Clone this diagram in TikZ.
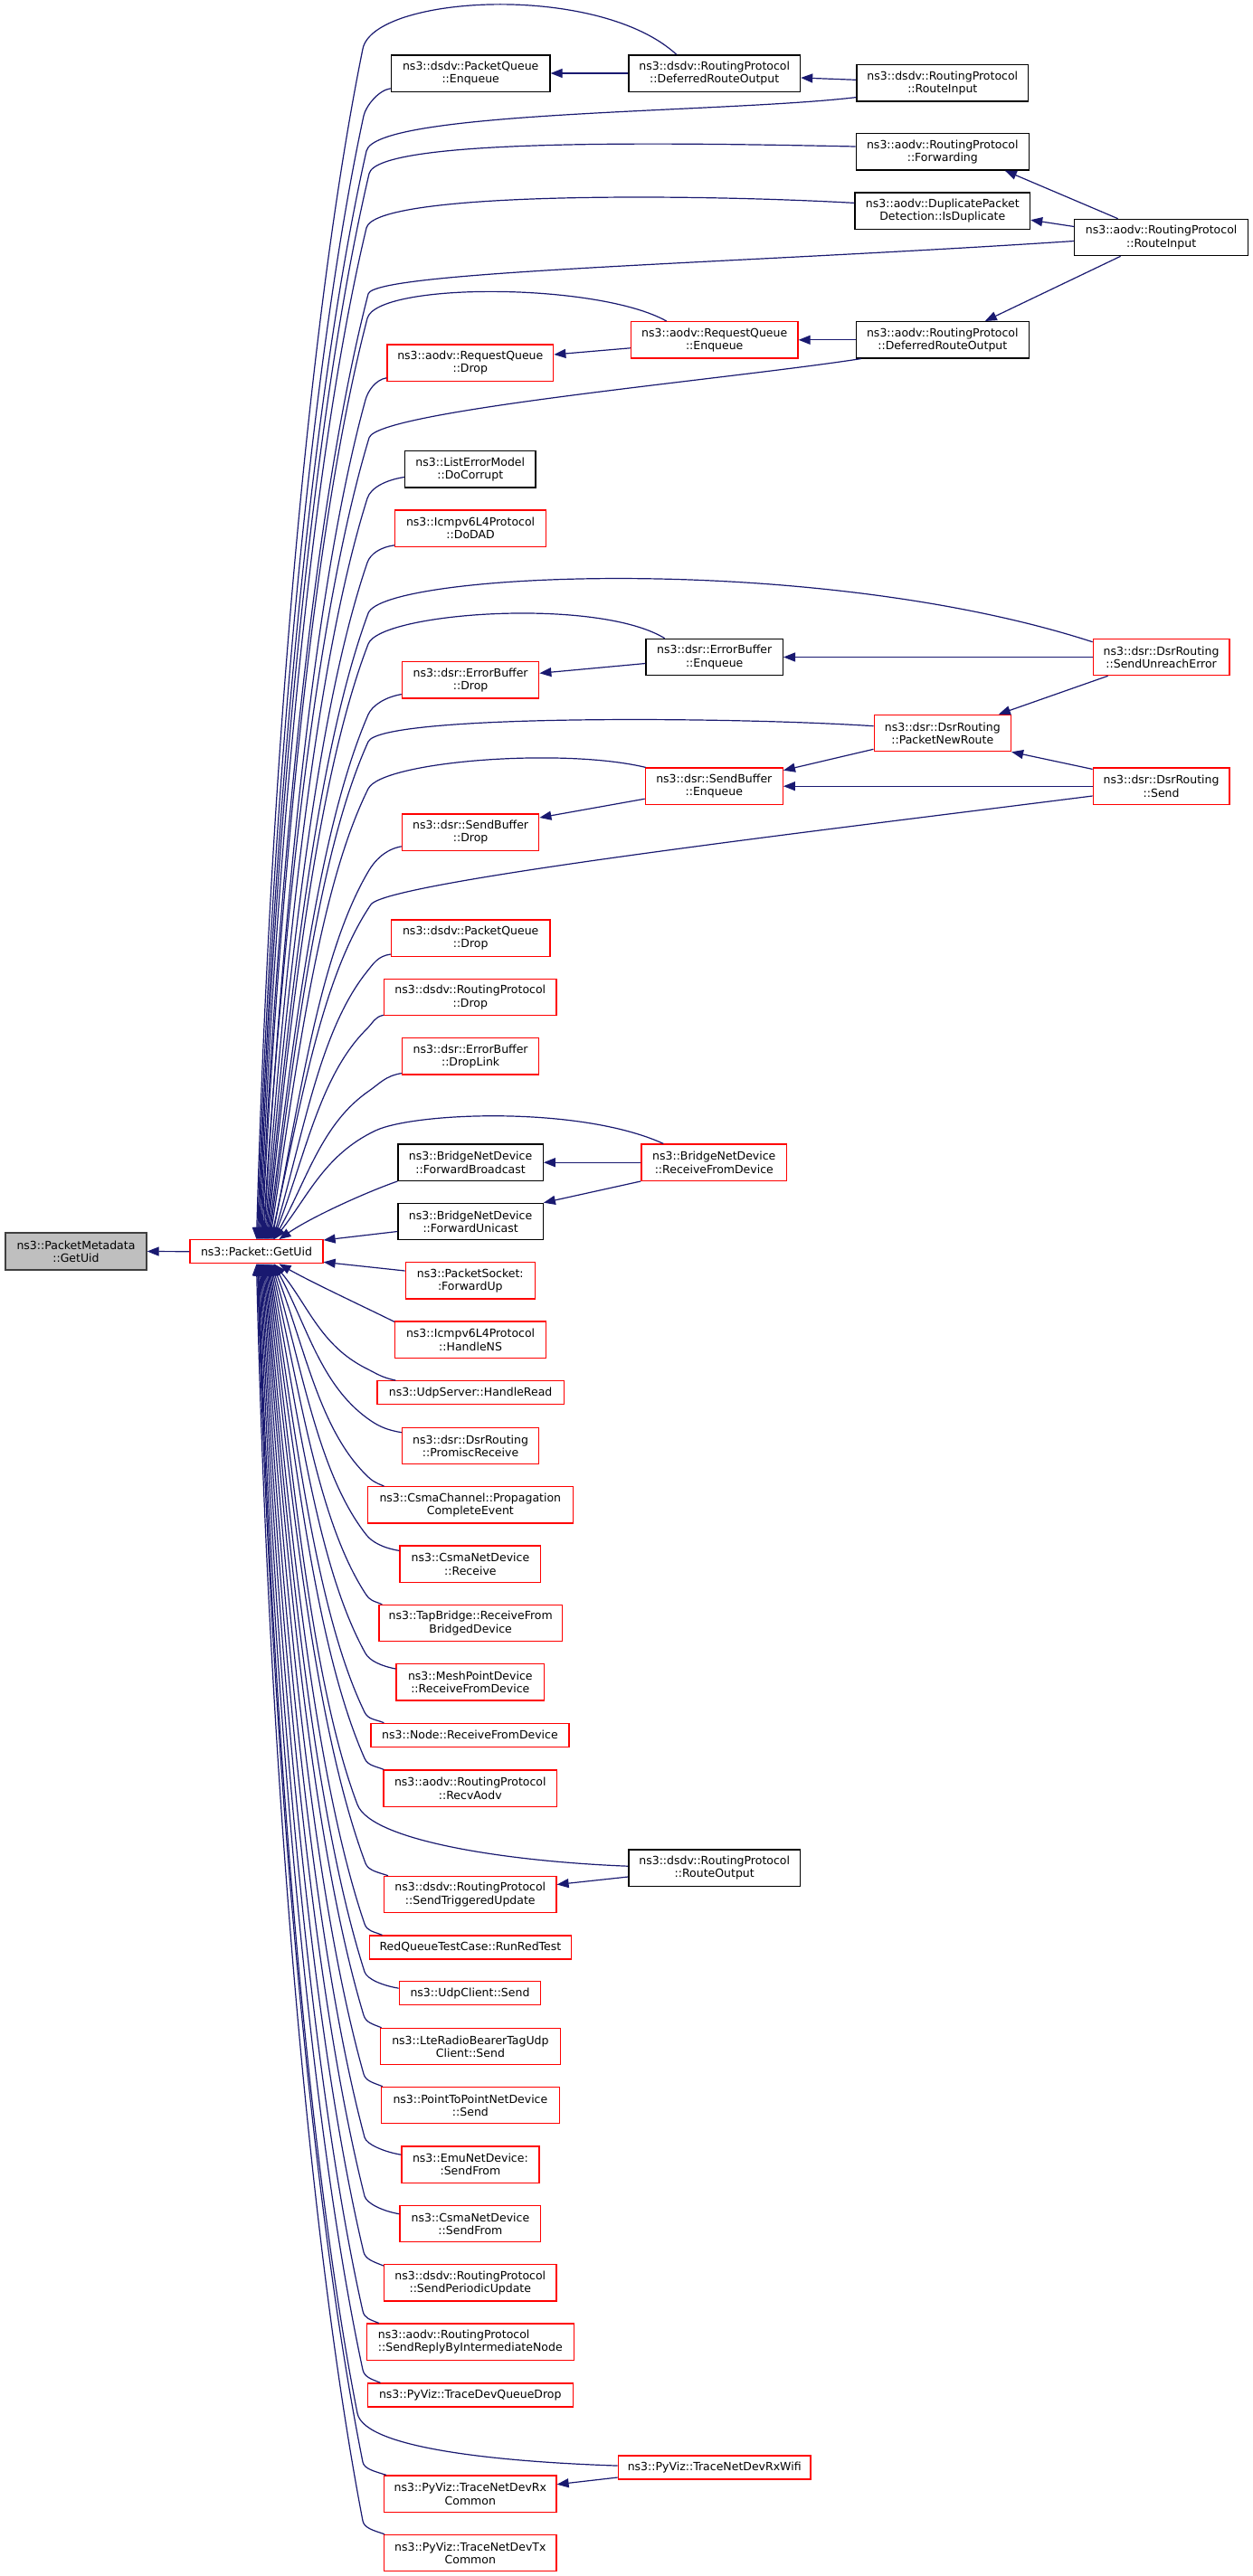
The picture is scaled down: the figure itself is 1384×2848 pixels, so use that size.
\documentclass[tikz,border=0pt]{standalone}
\usepackage{fontspec}
\setmainfont{DejaVu Sans}
\usetikzlibrary{arrows.meta}
\definecolor{navy}{HTML}{191970}
\definecolor{pmgray}{HTML}{BFBFBF}
\definecolor{pmborder}{HTML}{404040}
\tikzset{
  box/.style={draw, line width=1.3pt, minimum height=40.3pt, inner sep=0pt, align=center, fill=white,
              font=\fontsize{12.5}{14.3}\selectfont},
  rbox/.style={box, draw=red},
  kbox/.style={box, draw=black},
  one/.style={minimum height=26pt},
  callarrow/.style={draw=navy, line width=1.2pt, -{Triangle[length=13pt,width=10pt]}},
}
% top callers: #1 start, #2 first control, #3 bend x, #4 bend y (px down), #5 end offset, #6 h
\newcommand\tE[6]{%
  \pgfmathsetmacro\myex{283.5+#5}%
  \pgfmathsetmacro\mydd{1370.7-#4}%
  \pgfmathsetmacro\myvx{0.5*(\myex-#3)}%
  \pgfmathsetmacro\myvy{0.22*\mydd}%
  \pgfmathsetmacro\myox{15+25*(1-\mydd/1300)}%
  \pgfmathsetmacro\mycax{#3-\myvx*#6/\myvy}%
  \pgfmathsetmacro\mycay{-#4+#6}%
  \pgfmathsetmacro\mycbx{#3+\myvx}%
  \pgfmathsetmacro\mycby{-#4-\myvy}%
  \pgfmathsetmacro\myccx{\myex+\myox}%
  \pgfmathsetmacro\myccy{-1370.7+0.4*\mydd}%
  \draw[callarrow] (#1) .. controls #2 and (\mycax,\mycay) .. (#3,-#4)
     .. controls (\mycbx,\mycby) and (\myccx,\myccy) .. ([xshift=#5pt]G.north);%
}
\newcommand\bE[6]{%
  \pgfmathsetmacro\myex{283.5+#5}%
  \pgfmathsetmacro\mydd{#4-1396.7}%
  \pgfmathsetmacro\myvx{0.5*(\myex-#3)}%
  \pgfmathsetmacro\myvy{0.22*\mydd}%
  \pgfmathsetmacro\myox{15+25*(1-\mydd/1300)}%
  \pgfmathsetmacro\mycax{#3-\myvx*#6/\myvy}%
  \pgfmathsetmacro\mycay{-#4-#6}%
  \pgfmathsetmacro\mycbx{#3+\myvx}%
  \pgfmathsetmacro\mycby{-#4+\myvy}%
  \pgfmathsetmacro\myccx{\myex+\myox}%
  \pgfmathsetmacro\myccy{-1396.7-0.4*\mydd}%
  \draw[callarrow] (#1) .. controls #2 and (\mycax,\mycay) .. (#3,-#4)
     .. controls (\mycbx,\mycby) and (\myccx,\myccy) .. ([xshift=#5pt]G.south);%
}
\begin{document}
\begin{tikzpicture}[x=1pt,y=1pt]
\useasboundingbox (0,0) rectangle (1384,-2848);
\fill[white] (0,0) rectangle (1384,-2848);
% nodes
\node[box, fill=pmgray, draw=pmborder, minimum width=156pt, minimum height=41pt] (PM) at (84,-1383.5) {ns3::PacketMetadata\\::GetUid};
\node[rbox, one, minimum width=147pt] (G) at (283.5,-1383.7) {ns3::Packet::GetUid};

\node[kbox, minimum width=175.6pt] (dsdvPQEnq) at (520.2,-81) {ns3::dsdv::PacketQueue\\::Enqueue};
\node[kbox, minimum width=189.7pt] (dsdvRPDef) at (789.7,-81) {ns3::dsdv::RoutingProtocol\\::DeferredRouteOutput};
\node[kbox, minimum width=189.7pt] (dsdvRI) at (1041.8,-91.8) {ns3::dsdv::RoutingProtocol\\::RouteInput};
\node[kbox, minimum width=190.9pt] (aodvFwd) at (1041.8,-167.8) {ns3::aodv::RoutingProtocol\\::Forwarding};
\node[kbox, minimum width=193.5pt] (aodvDup) at (1041.8,-233.2) {ns3::aodv::DuplicatePacket\\Detection::IsDuplicate};
\node[kbox, minimum width=191.6pt] (aodvRI) at (1283.6,-262.5) {ns3::aodv::RoutingProtocol\\::RouteInput};
\node[rbox, minimum width=184.5pt] (aodvRQEnq) at (789.7,-375.8) {ns3::aodv::RequestQueue\\::Enqueue};
\node[kbox, minimum width=190.9pt] (aodvDef) at (1041.8,-375.8) {ns3::aodv::RoutingProtocol\\::DeferredRouteOutput};
\node[rbox, minimum width=183.9pt] (aodvRQDrop) at (519.8,-401) {ns3::aodv::RequestQueue\\::Drop};
\node[kbox, minimum width=144.3pt] (LEM) at (519.8,-518.7) {ns3::ListErrorModel\\::DoCorrupt};
\node[rbox, minimum width=166.7pt] (DoDAD) at (520.1,-584) {ns3::Icmpv6L4Protocol\\::DoDAD};
\node[kbox, minimum width=151.3pt] (dsrEBEnq) at (789.7,-726.5) {ns3::dsr::ErrorBuffer\\::Enqueue};
\node[rbox, minimum width=150.7pt] (dsrSUE) at (1283.6,-726.5) {ns3::dsr::DsrRouting\\::SendUnreachError};
\node[rbox, minimum width=151.3pt] (dsrEBDrop) at (520.1,-751.8) {ns3::dsr::ErrorBuffer\\::Drop};
\node[rbox, minimum width=151.3pt] (dsrPNR) at (1041.8,-810.5) {ns3::dsr::DsrRouting\\::PacketNewRoute};
\node[rbox, minimum width=152pt] (dsrSBEnq) at (789.3,-869.2) {ns3::dsr::SendBuffer\\::Enqueue};
\node[rbox, minimum width=150.7pt] (dsrSend) at (1283.6,-869.2) {ns3::dsr::DsrRouting\\::Send};
\node[rbox, minimum width=151.3pt] (dsrSBDrop) at (520.1,-920) {ns3::dsr::SendBuffer\\::Drop};
\node[rbox, minimum width=175.6pt] (dsdvPQDrop) at (520.2,-1037.2) {ns3::dsdv::PacketQueue\\::Drop};
\node[rbox, minimum width=190.3pt] (dsdvRPDrop) at (519.8,-1102.5) {ns3::dsdv::RoutingProtocol\\::Drop};
\node[rbox, minimum width=151.3pt] (DropLink) at (520.1,-1167.8) {ns3::dsr::ErrorBuffer\\::DropLink};
\node[kbox, minimum width=160.3pt] (BFB) at (520.1,-1285.2) {ns3::BridgeNetDevice\\::ForwardBroadcast};
\node[rbox, minimum width=160.9pt] (BRFD) at (789.3,-1285.2) {ns3::BridgeNetDevice\\::ReceiveFromDevice};
\node[kbox, minimum width=160.3pt] (BFU) at (520.1,-1350.5) {ns3::BridgeNetDevice\\::ForwardUnicast};

\node[rbox, minimum width=143.1pt] (PS) at (519.8,-1415.8) {ns3::PacketSocket:\\:ForwardUp};
\node[rbox, minimum width=166.7pt] (HNS) at (520.1,-1481.2) {ns3::Icmpv6L4Protocol\\::HandleNS};
\node[rbox, one, minimum width=206.3pt] (USHR) at (520.1,-1539.7) {ns3::UdpServer::HandleRead};
\node[rbox, minimum width=151.3pt] (PR) at (520.1,-1598.5) {ns3::dsr::DsrRouting\\::PromiscReceive};
\node[rbox, minimum width=227.3pt] (CC) at (519.8,-1663.8) {ns3::CsmaChannel::Propagation\\CompleteEvent};
\node[rbox, minimum width=155.8pt] (CNDR) at (519.9,-1729.2) {ns3::CsmaNetDevice\\::Receive};
\node[rbox, minimum width=202.4pt] (TB) at (520.2,-1794.5) {ns3::TapBridge::ReceiveFrom\\BridgedDevice};
\node[rbox, minimum width=163.5pt] (MP) at (519.8,-1859.8) {ns3::MeshPointDevice\\::ReceiveFromDevice};
\node[rbox, one, minimum width=219pt] (NRFD) at (519.5,-1918.3) {ns3::Node::ReceiveFromDevice};
\node[rbox, minimum width=191.6pt] (RA) at (519.8,-1977.2) {ns3::aodv::RoutingProtocol\\::RecvAodv};
\node[kbox, minimum width=189.7pt] (RO) at (789.7,-2065) {ns3::dsdv::RoutingProtocol\\::RouteOutput};
\node[rbox, minimum width=190.3pt] (STU) at (519.8,-2094.5) {ns3::dsdv::RoutingProtocol\\::SendTriggeredUpdate};
\node[rbox, one, minimum width=223.5pt] (RQ) at (519.9,-2153) {RedQueueTestCase::RunRedTest};
\node[rbox, one, minimum width=156.5pt] (UC) at (519.5,-2203.8) {ns3::UdpClient::Send};
\node[rbox, minimum width=199.3pt] (LTE) at (519.9,-2262.5) {ns3::LteRadioBearerTagUdp\\Client::Send};
\node[rbox, minimum width=196.7pt] (P2P) at (519.9,-2327.5) {ns3::PointToPointNetDevice\\::Send};
\node[rbox, minimum width=151.9pt] (EMU) at (519.9,-2393) {ns3::EmuNetDevice:\\:SendFrom};
\node[rbox, minimum width=155.8pt] (CSF) at (519.9,-2458.5) {ns3::CsmaNetDevice\\::SendFrom};
\node[rbox, minimum width=190.3pt] (SPU) at (519.8,-2523.8) {ns3::dsdv::RoutingProtocol\\::SendPeriodicUpdate};
\node[rbox, align=left, minimum width=228.7pt] (SRBIN) at (519.8,-2589.2) {ns3::aodv::RoutingProtocol\\::SendReplyByIntermediateNode};
\node[rbox, one, minimum width=227.3pt] (TDQD) at (519.8,-2648) {ns3::PyViz::TraceDevQueueDrop};
\node[rbox, one, minimum width=212.7pt] (TRXW) at (789.7,-2728) {ns3::PyViz::TraceNetDevRxWifi};
\node[rbox, minimum width=190.3pt] (TRXC) at (519.8,-2757.2) {ns3::PyViz::TraceNetDevRx\\Common};
\node[rbox, minimum width=190.3pt] (TTXC) at (519.8,-2822.5) {ns3::PyViz::TraceNetDevTx\\Common};

% main edge
\draw[callarrow] (G.west) -- (PM.east);

% top callers to GetUid
\tE{[xshift=-42pt]dsdvRPDef.north}{(660,20)}{401}{54}{0}{59}
\tE{[yshift=4pt]dsdvPQEnq.south west}{+(-14,-2)}{402}{128}{1}{10}
\tE{[yshift=5pt]dsdvRI.south west}{(800,-125)}{405}{167}{2}{45}
\tE{[yshift=-15pt]aodvFwd.north west}{(750,-158)}{408}{192}{3}{40}
\tE{[yshift=-12pt]aodvDup.north west}{(760,-214)}{405}{252}{4}{40}
\tE{[yshift=-4pt]aodvRI.west}{(800,-292)}{407}{325}{5}{25}
\tE{[xshift=-53pt]aodvRQEnq.north}{(660,-312)}{406}{352}{6}{40}
\tE{[xshift=6pt]aodvDef.south west}{(800,-420)}{408}{484}{7}{30}
\tE{[yshift=4pt]aodvRQDrop.south west}{+(-12,-2)}{404}{442}{8}{10}
\tE{[yshift=12pt]LEM.south west}{+(-20,-3)}{406}{551}{9}{12}
\tE{[yshift=2pt]DoDAD.south west}{+(-15,-2)}{406}{622}{10}{10}
\tE{[yshift=-4pt]dsrSUE.north west}{(900,-610)}{407}{678}{11}{45}
\tE{[xshift=-55pt]dsrEBEnq.north}{(660,-660)}{407}{712}{12}{35}
\tE{[yshift=5pt]dsrEBDrop.south west}{+(-18,-3)}{407}{790}{13}{10}
\tE{[yshift=-13pt]dsrPNR.north west}{(800,-792)}{407}{820}{14}{30}
\tE{[xshift=1pt]dsrSBEnq.north west}{(620,-826)}{407}{872}{15}{30}
\tE{[yshift=10pt]dsrSend.south west}{(900,-919)}{410}{1000}{16}{25}
\tE{[yshift=5pt]dsrSBDrop.south west}{+(-18,-3)}{408}{962}{17}{10}
\tE{[yshift=3pt]dsdvPQDrop.south west}{+(-14,-2)}{405}{1075}{18}{10}
\tE{[yshift=1pt]dsdvRPDrop.south west}{+(-10,-2)}{405}{1138}{18.5}{8}
\tE{[yshift=2pt]DropLink.south west}{+(-18,-3)}{408}{1206}{19}{8}
\tE{[xshift=-56pt]BRFD.north}{(640,-1222)}{415}{1250}{19.5}{20}
\draw[callarrow] (BFB.south west) .. controls (405,-1318) and (345,-1345) .. ([xshift=25pt]G.north);
\draw[callarrow] ([yshift=-11pt]BFU.west) -- ([yshift=-1pt]G.north east);

% bottom callers to GetUid
\draw[callarrow] ([yshift=-10pt]PS.north west) -- ([yshift=2pt]G.south east);
\draw[callarrow] ([yshift=-1pt]HNS.north west) .. controls (405,-1446) and (345,-1418) .. ([xshift=25pt]G.south);
\bE{[xshift=21pt]USHR.north west}{+(-15,3)}{405}{1513}{19.5}{6}
\bE{[yshift=-6pt]PR.north west}{+(-18,3)}{406}{1568}{19}{8}
\bE{[xshift=19pt]CC.north west}{+(-10,4)}{404}{1630}{18}{8}
\bE{[yshift=-6pt]CNDR.north west}{+(-18,3)}{405}{1697}{17}{8}
\bE{[xshift=4pt]TB.north west}{+(-10,4)}{404}{1762}{16}{8}
\bE{[yshift=-6pt]MP.north west}{+(-16,3)}{404}{1828}{15}{8}
\bE{[xshift=15pt]NRFD.north west}{+(-10,4)}{403}{1893}{14}{8}
\bE{[xshift=1pt]RA.north west}{+(-10,4)}{403}{1944}{13}{8}
\bE{[yshift=-19pt]RO.north west}{(560,-2058)}{395}{1995}{12}{40}
\bE{[xshift=5pt]STU.north west}{+(-12,4)}{404}{2060}{11}{8}
\bE{[xshift=15pt]RQ.north west}{+(-10,4)}{403}{2127}{10}{8}
\bE{[yshift=-8pt]UC.north west}{+(-18,3)}{403}{2180}{9}{8}
\bE{[xshift=2pt]LTE.north west}{+(-10,4)}{402}{2228}{8}{8}
\bE{[xshift=2pt]P2P.north west}{+(-10,4)}{402}{2293}{7}{8}
\bE{[yshift=-10pt]EMU.north west}{+(-18,3)}{403}{2363}{6}{8}
\bE{[yshift=-10pt]CSF.north west}{+(-18,3)}{403}{2428}{5}{8}
\bE{[yshift=-2pt]SPU.north west}{+(-10,4)}{402}{2490}{4}{8}
\bE{[xshift=14pt]SRBIN.north west}{+(-10,4)}{401}{2555}{3}{8}
\bE{[xshift=15pt]TDQD.north west}{+(-10,4)}{401}{2620}{2}{8}
\bE{[yshift=-11.7pt]TRXW.north west}{(560,-2722)}{395}{2668}{1.5}{40}
\bE{[xshift=3pt]TRXC.north west}{+(-12,4)}{401}{2722}{1}{8}
\bE{[xshift=1pt]TTXC.north west}{+(-12,4)}{401}{2787}{0}{8}

% edges between callers
\draw[callarrow] (dsdvRPDef.west) -- (dsdvPQEnq.east);
\draw[callarrow] ([yshift=3.5pt]dsdvRI.west) -- ([yshift=-5pt]dsdvRPDef.east);
\draw[callarrow] ([xshift=-48pt]aodvRI.north) -- ([xshift=69pt]aodvFwd.south);
\draw[callarrow] ([yshift=12pt]aodvRI.west) -- ([yshift=-10pt]aodvDup.east);
\draw[callarrow] ([xshift=-45pt]aodvRI.south) -- ([xshift=47pt]aodvDef.north);
\draw[callarrow] (aodvDef.west) -- (aodvRQEnq.east);
\draw[callarrow] ([yshift=-9pt]aodvRQEnq.west) -- ([yshift=9pt]aodvRQDrop.east);
\draw[callarrow] (dsrSUE.west) -- (dsrEBEnq.east);
\draw[callarrow] ([yshift=-7pt]dsrEBEnq.west) -- ([yshift=7.5pt]dsrEBDrop.east);
\draw[callarrow] ([xshift=-59pt]dsrSUE.south) -- ([xshift=62pt]dsrPNR.north);
\draw[callarrow] ([yshift=-17.8pt]dsrPNR.west) -- ([yshift=17.5pt]dsrSBEnq.east);
\draw[callarrow] ([yshift=-2pt]dsrSend.north west) -- (dsrPNR.south east);
\draw[callarrow] (dsrSend.west) -- (dsrSBEnq.east);
\draw[callarrow] ([yshift=-14pt]dsrSBEnq.west) -- ([yshift=16pt]dsrSBDrop.east);
\draw[callarrow] (BRFD.west) -- (BFB.east);
\draw[callarrow] (BRFD.south west) -- (BFU.north east);
\draw[callarrow] ([yshift=-10pt]RO.west) -- ([yshift=11pt]STU.east);
\draw[callarrow] ([yshift=-11pt]TRXW.west) -- ([yshift=10.5pt]TRXC.east);
\end{tikzpicture}
\end{document}
